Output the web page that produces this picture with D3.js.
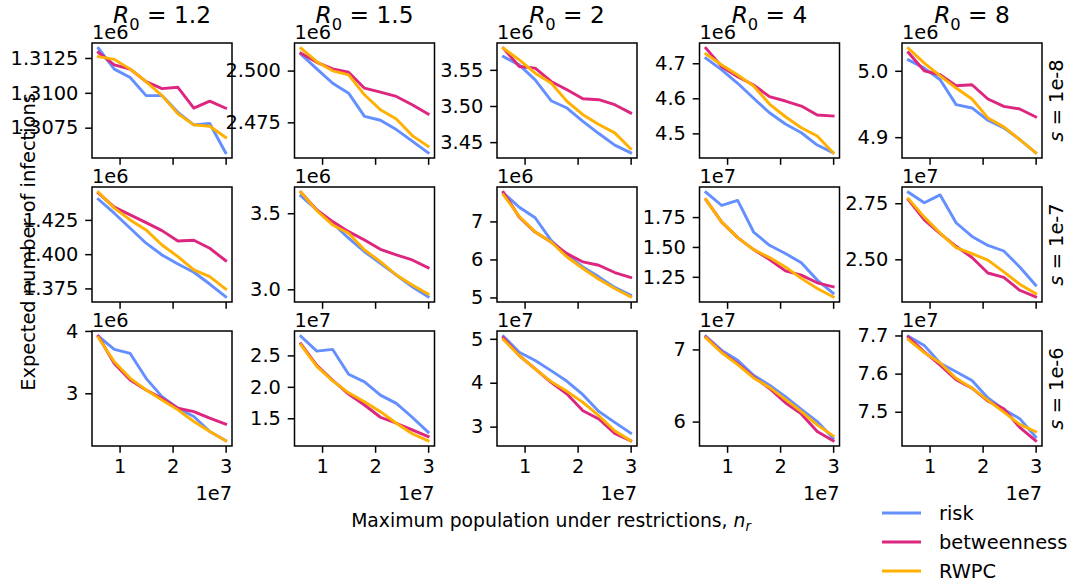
<!DOCTYPE html>
<html>
<head>
<meta charset="utf-8">
<script src="https://cdn.jsdelivr.net/npm/d3@7"></script>
<style>
  body { margin: 0; background: #fff; }
  text { font-family: "DejaVu Sans", sans-serif; fill: #000; }
</style>
</head>
<body>
<svg id="chart" width="1077" height="586"></svg>
<script>
// columns: R0, rows: s
var r0Labels = ["1.2", "1.5", "2", "4", "8"];
var sLabels = ["1e-8", "1e-7", "1e-6"];
var methods = ["risk", "betweenness", "RWPC"];
var colors = ["#648FFF", "#DC267F", "#FFB000"];

// maximum population under restrictions
var nr = [6e6, 9e6, 12e6, 15e6, 18e6, 21e6, 24e6, 27e6, 30e6];
var xTicks = [1e7, 2e7, 3e7];
var xTickLabels = ["1", "2", "3"];

// exponent of the offset text for each panel
var yExponent = [
  [6, 6, 6, 6, 6],
  [6, 6, 6, 7, 7],
  [6, 7, 7, 7, 7]
];

var yTickLabels = [
  [["1.3075", "1.3100", "1.3125"], ["2.475", "2.500"], ["3.45", "3.50", "3.55"], ["4.5", "4.6", "4.7"], ["4.9", "5.0"]],
  [["1.375", "1.400", "1.425"], ["3.0", "3.5"], ["5", "6", "7"], ["1.25", "1.50", "1.75"], ["2.50", "2.75"]],
  [["3", "4"], ["1.5", "2.0", "2.5"], ["3", "4", "5"], ["6", "7"], ["7.5", "7.6", "7.7"]]
];

// values in units of 10^yExponent
var risk = [
  [
    [1.3132, 1.3117, 1.3111, 1.3098, 1.3098, 1.3086, 1.3077, 1.3078, 1.3057],
    [2.5079, 2.5008, 2.4939, 2.4891, 2.4779, 2.4760, 2.4715, 2.4659, 2.4603],
    [3.5683, 3.5569, 3.5362, 3.5073, 3.4972, 3.4788, 3.4619, 3.4458, 3.4353],
    [4.7143, 4.6809, 4.6429, 4.6000, 4.5589, 4.5266, 4.5017, 4.4666, 4.4446],
    [5.0165, 5.0040, 4.9865, 4.9490, 4.9440, 4.9255, 4.9140, 4.8965, 4.8765]
  ],
  [
    [1.4401, 1.4299, 1.4189, 1.4080, 1.3994, 1.3928, 1.3868, 1.3782, 1.3689],
    [3.614, 3.522, 3.434, 3.336, 3.247, 3.171, 3.094, 3.017, 2.951],
    [7.751, 7.374, 7.096, 6.503, 6.110, 5.804, 5.542, 5.264, 5.063],
    [1.958, 1.847, 1.889, 1.625, 1.514, 1.445, 1.367, 1.223, 1.112],
    [2.799, 2.752, 2.787, 2.663, 2.602, 2.562, 2.537, 2.466, 2.385]
  ],
  [
    [3.915, 3.703, 3.639, 3.240, 2.947, 2.761, 2.628, 2.388, 2.244],
    [2.805, 2.568, 2.595, 2.200, 2.079, 1.868, 1.737, 1.516, 1.279],
    [5.059, 4.694, 4.505, 4.276, 4.032, 3.728, 3.347, 3.096, 2.854],
    [7.183, 6.986, 6.849, 6.642, 6.505, 6.344, 6.170, 6.000, 5.771],
    [7.698, 7.674, 7.627, 7.605, 7.582, 7.536, 7.506, 7.482, 7.434]
  ]
];

var betweenness = [
  [
    [1.3129, 1.3120, 1.3117, 1.3108, 1.3103, 1.3104, 1.3089, 1.3094, 1.3089],
    [2.5084, 2.5040, 2.5008, 2.4992, 2.4915, 2.4896, 2.4875, 2.4835, 2.4790],
    [3.5799, 3.5546, 3.5523, 3.5339, 3.5225, 3.5101, 3.5087, 3.5018, 3.4904],
    [4.7429, 4.6903, 4.6617, 4.6380, 4.6046, 4.5923, 4.5780, 4.5523, 4.5494],
    [5.0275, 5.0000, 4.9940, 4.9775, 4.9790, 4.9575, 4.9465, 4.9425, 4.9305]
  ],
  [
    [1.4445, 1.4343, 1.4287, 1.4230, 1.4172, 1.4096, 1.4102, 1.4043, 1.3953],
    [3.638, 3.522, 3.445, 3.379, 3.324, 3.263, 3.226, 3.193, 3.142],
    [7.768, 7.113, 6.720, 6.458, 6.153, 5.935, 5.848, 5.656, 5.526],
    [1.897, 1.708, 1.578, 1.478, 1.395, 1.300, 1.264, 1.200, 1.167],
    [2.765, 2.676, 2.614, 2.558, 2.508, 2.439, 2.419, 2.362, 2.333]
  ],
  [
    [3.915, 3.479, 3.213, 3.054, 2.921, 2.761, 2.707, 2.601, 2.505],
    [2.684, 2.342, 2.105, 1.884, 1.711, 1.516, 1.421, 1.316, 1.210],
    [5.023, 4.619, 4.315, 4.009, 3.744, 3.363, 3.174, 2.845, 2.678],
    [7.170, 6.963, 6.803, 6.619, 6.459, 6.261, 6.106, 5.862, 5.734],
    [7.696, 7.657, 7.622, 7.584, 7.562, 7.528, 7.508, 7.459, 7.424]
  ]
];

var rwpc = [
  [
    [1.3126, 1.3124, 1.3117, 1.3108, 1.3098, 1.3085, 1.3077, 1.3076, 1.3068],
    [2.5108, 2.5043, 2.4999, 2.4979, 2.4883, 2.4811, 2.4766, 2.4686, 2.4634],
    [3.5799, 3.5638, 3.5454, 3.5317, 3.5064, 3.4880, 3.4743, 3.4628, 3.4408],
    [4.7266, 4.6951, 4.6666, 4.6351, 4.5837, 4.5474, 4.5160, 4.4923, 4.4446],
    [5.0340, 5.0115, 4.9925, 4.9740, 4.9575, 4.9290, 4.9155, 4.8965, 4.8765]
  ],
  [
    [1.4452, 1.4336, 1.4250, 1.4177, 1.4067, 1.3982, 1.3885, 1.3836, 1.3746],
    [3.638, 3.517, 3.423, 3.368, 3.259, 3.182, 3.094, 3.028, 2.969],
    [7.698, 7.131, 6.720, 6.458, 6.065, 5.761, 5.481, 5.238, 5.018],
    [1.897, 1.708, 1.578, 1.478, 1.411, 1.333, 1.237, 1.153, 1.083],
    [2.770, 2.688, 2.617, 2.552, 2.525, 2.496, 2.444, 2.389, 2.348]
  ],
  [
    [3.894, 3.505, 3.240, 3.054, 2.894, 2.734, 2.548, 2.388, 2.239],
    [2.668, 2.326, 2.095, 1.905, 1.763, 1.605, 1.421, 1.253, 1.142],
    [4.984, 4.619, 4.315, 4.025, 3.804, 3.553, 3.249, 2.907, 2.678],
    [7.161, 6.954, 6.789, 6.605, 6.473, 6.308, 6.137, 5.954, 5.803],
    [7.689, 7.655, 7.628, 7.588, 7.562, 7.530, 7.499, 7.467, 7.448]
  ]
];

var seriesData = [risk, betweenness, rwpc];

var svg = d3.select("#chart");

var panelW = 140, panelH = 115,
    left0 = 92, top0 = 43,
    colStep = 202.5, rowStep = 144,
    fontSize = 19.4, titleSize = 23.3,
    tickLen = 6.8;

function padded(ext) {
  var m = (ext[1] - ext[0]) * 0.05;
  return [ext[0] - m, ext[1] + m];
}

for (var r = 0; r < sLabels.length; r++) {
  for (var c = 0; c < r0Labels.length; c++) {
    drawPanel(r, c);
  }
}

function drawPanel(r, c) {
  var x0 = left0 + c * colStep,
      y0 = top0 + r * rowStep;

  var x = d3.scaleLinear()
      .domain(padded(d3.extent(nr)))
      .range([x0, x0 + panelW]);

  var all = [];
  seriesData.forEach(function(s) { all = all.concat(s[r][c]); });
  var y = d3.scaleLinear()
      .domain(padded(d3.extent(all)))
      .range([y0 + panelH, y0]);

  var g = svg.append("g");

  var line = d3.line()
      .x(function(d, i) { return x(nr[i]); })
      .y(function(d) { return y(d); });

  seriesData.forEach(function(s, k) {
    g.append("path")
        .datum(s[r][c])
        .attr("d", line)
        .attr("fill", "none")
        .attr("stroke", colors[k])
        .attr("stroke-width", 2.9)
        .attr("stroke-linejoin", "round")
        .attr("stroke-linecap", "square");
  });

  // y axis
  var labels = yTickLabels[r][c];
  var yAxis = d3.axisLeft(y)
      .tickValues(labels.map(Number))
      .tickFormat(function(d, i) { return labels[i]; })
      .tickSizeInner(tickLen).tickSizeOuter(0).tickPadding(6.8);
  var ya = g.append("g")
      .attr("transform", "translate(" + x0 + ",0)")
      .call(yAxis);
  styleAxis(ya);

  // x axis
  var bottomRow = r === sLabels.length - 1;
  var xAxis = d3.axisBottom(x)
      .tickValues(xTicks)
      .tickFormat(function(d, i) { return bottomRow ? xTickLabels[i] : ""; })
      .tickSizeInner(tickLen).tickSizeOuter(0).tickPadding(6.8);
  var xa = g.append("g")
      .attr("transform", "translate(0," + (y0 + panelH) + ")")
      .call(xAxis);
  styleAxis(xa);

  g.append("rect")
      .attr("x", x0).attr("y", y0)
      .attr("width", panelW).attr("height", panelH)
      .attr("fill", "none")
      .attr("stroke", "#000")
      .attr("stroke-width", 1.5);

  // offset text
  g.append("text")
      .attr("x", x0)
      .attr("y", y0 - 4.5)
      .attr("font-size", fontSize)
      .text("1e" + yExponent[r][c]);

  if (bottomRow) {
    g.append("text")
        .attr("x", x0 + panelW)
        .attr("y", 500)
        .attr("text-anchor", "end")
        .attr("font-size", fontSize)
        .text("1e7");
  }

  if (r === 0) {
    var t = g.append("text")
        .attr("x", x0 + panelW / 2)
        .attr("y", 23)
        .attr("text-anchor", "middle")
        .attr("font-size", titleSize);
    t.append("tspan").attr("font-style", "italic").text("R");
    t.append("tspan").attr("font-size", titleSize * 0.7).attr("dy", 6.5).text("0");
    t.append("tspan").attr("dy", -6.5).text(" = " + r0Labels[c]);
  }

  if (c === r0Labels.length - 1) {
    var s = g.append("text")
        .attr("transform", "translate(1063," + (y0 + panelH / 2) + ") rotate(-90)")
        .attr("text-anchor", "middle")
        .attr("font-size", fontSize);
    s.append("tspan").attr("font-style", "italic").text("s");
    s.append("tspan").text(" = " + sLabels[r]);
  }
}

function styleAxis(a) {
  a.select(".domain").remove();
  a.attr("font-family", null).attr("font-size", null);
  a.selectAll(".tick line").attr("stroke", "#000").attr("stroke-width", 1.5);
  a.selectAll(".tick text").attr("fill", "#000").attr("font-size", fontSize);
}

// axis labels
svg.append("text")
    .attr("transform", "translate(35,242) rotate(-90)")
    .attr("text-anchor", "middle")
    .attr("font-size", fontSize)
    .text("Expected number of infections");

var xl = svg.append("text")
    .attr("x", 551)
    .attr("y", 527)
    .attr("text-anchor", "middle")
    .attr("font-size", 18.8);
xl.append("tspan").text("Maximum population under restrictions, ");
xl.append("tspan").attr("font-style", "italic").text("n");
xl.append("tspan").attr("font-style", "italic").attr("font-size", 18.8 * 0.7).attr("dy", 4).text("r");

// legend
var legend = svg.append("g");
methods.forEach(function(m, i) {
  var ly = 513 + i * 29;
  legend.append("line")
      .attr("x1", 882).attr("x2", 921)
      .attr("y1", ly).attr("y2", ly)
      .attr("stroke", colors[i])
      .attr("stroke-width", 2.9);
  legend.append("text")
      .attr("x", 939)
      .attr("y", ly)
      .attr("dy", "0.35em")
      .attr("font-size", fontSize)
      .text(m);
});
</script>
</body>
</html>
